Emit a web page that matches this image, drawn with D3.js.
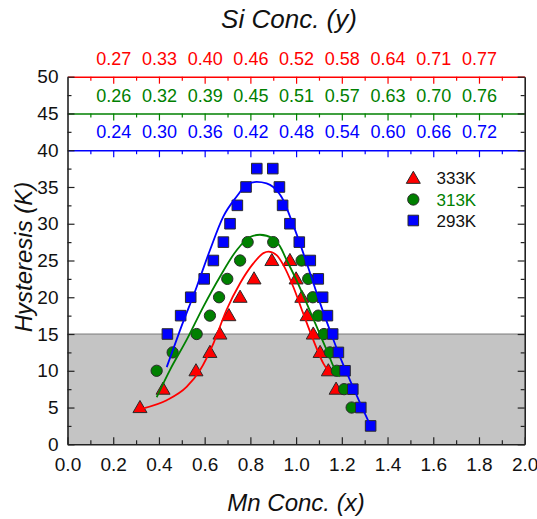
<!DOCTYPE html>
<html><head><meta charset="utf-8">
<script src="https://cdn.jsdelivr.net/npm/d3@7"></script>
<style>
body{margin:0;background:#fff;}
svg{display:block;font-family:"Liberation Sans",Arial,sans-serif;}
</style></head>
<body><svg id="c" width="537" height="519"></svg>
<script>
// ---- data ----
const xTickLabels = ["0.0","0.2","0.4","0.6","0.8","1.0","1.2","1.4","1.6","1.8","2.0"];
const yTickLabels = [0,5,10,15,20,25,30,35,40,45,50];
const siTickPos = [0.2,0.4,0.6,0.8,1.0,1.2,1.4,1.6,1.8];
const siRed   = ["0.27","0.33","0.40","0.46","0.52","0.58","0.64","0.71","0.77"];
const siGreen = ["0.26","0.32","0.39","0.45","0.51","0.57","0.63","0.70","0.76"];
const siBlue  = ["0.24","0.30","0.36","0.42","0.48","0.54","0.60","0.66","0.72"];

const t333_x = [0.317,0.418,0.562,0.623,0.667,0.706,0.755,0.816,0.894,0.973,1.000,1.025,1.048,1.075,1.105,1.141,1.175];
const t333_y = [5,7.5,10,12.5,15,17.5,20,22.5,25,25,22.5,20,17.5,15,12.5,10,7.5];
const t313_x = [0.390,0.460,0.565,0.623,0.663,0.699,0.755,0.788,0.900,1.024,1.053,1.073,1.097,1.122,1.148,1.178,1.210,1.243];
const t313_y = [10,12.5,15,17.5,20,22.5,25,27.5,27.5,25,22.5,20,17.5,15,12.5,10,7.5,5];
const t293_x = [0.437,0.495,0.539,0.598,0.638,0.682,0.711,0.743,0.781,0.828,0.898,0.927,0.941,0.973,1.014,1.062,1.097,1.116,1.137,1.160,1.185,1.214,1.248,1.283,1.326];
const t293_y = [15,17.5,20,22.5,25,27.5,30,32.5,35,37.5,37.5,35,32.5,30,27.5,25,22.5,20,17.5,15,12.5,10,7.5,5,2.5];

const fit333_x = [0.332,0.434,0.521,0.580,0.638,0.696,0.755,0.813,0.857,0.879,0.916,0.944,0.988,1.031,1.075,1.119,1.145];
const fit333_y = [4.9,6.0,7.8,10.1,13.7,18.3,21.9,24.6,26.0,26.2,25.7,24.4,21.4,17.8,14.2,11.0,9.8];
const fit313_x = [0.390,0.448,0.521,0.594,0.667,0.740,0.798,0.842,0.900,0.930,0.958,1.002,1.046,1.090,1.134,1.178,1.191];
const fit313_y = [6.4,10.1,14.2,18.7,22.8,26.4,28.2,28.5,28.0,26.9,25.1,22.3,19.2,16.0,12.8,9.7,9.2];
const fit293_x = [0.434,0.492,0.565,0.623,0.682,0.740,0.784,0.828,0.871,0.900,0.944,0.973,1.017,1.061,1.105,1.148,1.192,1.236,1.280,1.326];
const fit293_y = [10.5,15.5,21.4,26.4,31.0,33.7,35.3,35.7,35.5,35.0,33.2,31.0,27.3,23.3,19.2,15.5,11.9,8.7,5.6,2.5];

const shadeMax = 15;
const legendLabels = ["333K","313K","293K"];

// ---- chart ----
const svg = d3.select("#c");
const x = d3.scaleLinear([0,2],[67.5,524.7]);
const y = d3.scaleLinear([0,50],[444.3,76.7]);
const RED="#ff0000", GREEN="#008000", BLUE="#0000ff", EDGE="#2a2a2a";
const majorX = d3.range(0,2.0001,0.2), minorX = d3.range(0.1,2,0.2);
const majorY = yTickLabels, minorY = d3.range(2.5,50,5);

// shaded region
svg.append("rect").attr("x",x(0)).attr("y",y(shadeMax)).attr("width",x(2)-x(0)).attr("height",y(0)-y(shadeMax)).attr("fill","#c4c4c4");
svg.append("line").attr("x1",x(0)).attr("x2",x(2)).attr("y1",y(shadeMax)).attr("y2",y(shadeMax)).attr("stroke","#7a7a7a").attr("stroke-width",1);

function styleAxis(g,color,w){
  g.selectAll("path").attr("stroke",color).attr("stroke-width",w);
  g.selectAll("line").attr("stroke",color).attr("stroke-width",1.2);
}

// colored top Si axes
[[50,RED,siRed],[45,GREEN,siGreen],[40,BLUE,siBlue]].forEach(([lvl,col,labs])=>{
  const gm = svg.append("g").attr("transform",`translate(0,${y(lvl)})`)
    .call(d3.axisBottom(x).tickValues(siTickPos).tickFormat((d,i)=>labs[i]).tickSizeInner(7).tickSizeOuter(0));
  styleAxis(gm,col,1.6);
  gm.selectAll("text").attr("fill",col).attr("font-size",18).attr("font-family","Liberation Sans, Arial, sans-serif")
    .attr("y",-(y(lvl)-y(lvl+2.5))).attr("dy","0.36em");
  const gn = svg.append("g").attr("transform",`translate(0,${y(lvl)})`)
    .call(d3.axisBottom(x).tickValues(d3.range(0.1,2,0.2)).tickFormat("").tickSizeInner(4).tickSizeOuter(0));
  styleAxis(gn,col,1.6);
  gn.select("path").remove();
});

// bottom axis
const gb = svg.append("g").attr("transform",`translate(0,${y(0)})`)
  .call(d3.axisBottom(x).tickValues(majorX).tickFormat((d,i)=>xTickLabels[i]).tickSizeInner(-7).tickSizeOuter(0).tickPadding(13));
styleAxis(gb,"#222",1.6);
gb.selectAll("text").attr("fill","#111").attr("font-size",19).attr("font-family","Liberation Sans, Arial, sans-serif");
const gbm = svg.append("g").attr("transform",`translate(0,${y(0)})`)
  .call(d3.axisBottom(x).tickValues(minorX).tickFormat("").tickSizeInner(-4).tickSizeOuter(0));
styleAxis(gbm,"#222",1.6); gbm.select("path").remove();

// left axis
const gl = svg.append("g").attr("transform",`translate(${x(0)},0)`)
  .call(d3.axisLeft(y).tickValues(majorY).tickFormat(d=>d).tickSizeInner(-7).tickSizeOuter(0).tickPadding(9));
styleAxis(gl,"#222",1.6);
gl.selectAll("text").attr("fill","#111").attr("font-size",19).attr("font-family","Liberation Sans, Arial, sans-serif");
const glm = svg.append("g").attr("transform",`translate(${x(0)},0)`)
  .call(d3.axisLeft(y).tickValues(minorY).tickFormat("").tickSizeInner(-4).tickSizeOuter(0));
styleAxis(glm,"#222",1.6); glm.select("path").remove();

// right axis
const gr = svg.append("g").attr("transform",`translate(${x(2)},0)`)
  .call(d3.axisRight(y).tickValues(majorY).tickFormat("").tickSizeInner(-7).tickSizeOuter(0));
styleAxis(gr,"#222",1.6);
const grm = svg.append("g").attr("transform",`translate(${x(2)},0)`)
  .call(d3.axisRight(y).tickValues(minorY).tickFormat("").tickSizeInner(-4).tickSizeOuter(0));
styleAxis(grm,"#222",1.6); grm.select("path").remove();

// markers
const triSym = d3.symbol().type(d3.symbolTriangle).size(85);
const cirSym = d3.symbol().type(d3.symbolCircle).size(100);
const sqSym  = d3.symbol().type(d3.symbolSquare).size(112);

function drawPts(xs,ys,sym,fill,dy){
  svg.append("g").selectAll("path").data(xs.map((v,i)=>[v,ys[i]])).join("path")
    .attr("d",sym).attr("transform",d=>`translate(${x(d[0])},${y(d[1])+(dy||0)})`)
    .attr("fill",fill).attr("stroke",EDGE).attr("stroke-width",1);
}
drawPts(t333_x,t333_y,triSym,RED,1);
drawPts(t313_x,t313_y,cirSym,GREEN);
drawPts(t293_x,t293_y,sqSym,BLUE);

// fits
const line = d3.line().x(d=>x(d[0])).y(d=>y(d[1])).curve(d3.curveMonotoneX);
[[fit333_x,fit333_y,RED],[fit313_x,fit313_y,GREEN],[fit293_x,fit293_y,BLUE]].forEach(([xs,ys,c])=>{
  svg.append("path").datum(xs.map((v,i)=>[v,ys[i]])).attr("d",line)
    .attr("fill","none").attr("stroke",c).attr("stroke-width",1.8);
});

// legend
const legY = [178.3,199.5,220.5];
const legSyms = [[triSym,RED,"#111"],[cirSym,GREEN,GREEN],[sqSym,BLUE,"#111"]];
legendLabels.forEach((lab,i)=>{
  svg.append("path").attr("d",legSyms[i][0]).attr("transform",`translate(413.3,${legY[i]+(i===0?1:0)})`)
    .attr("fill",legSyms[i][1]).attr("stroke",EDGE).attr("stroke-width",1);
  svg.append("text").attr("x",436.5).attr("y",legY[i]).attr("dy","0.36em")
    .attr("font-size",17).attr("fill",legSyms[i][2]).text(lab);
});

// titles
svg.append("text").attr("x",289).attr("y",18.8).attr("dy","0.36em").attr("text-anchor","middle")
  .attr("font-size",26).attr("font-style","italic").attr("fill","#111").text("Si Conc. (y)");
svg.append("text").attr("x",296).attr("y",502).attr("dy","0.36em").attr("text-anchor","middle")
  .attr("font-size",24).attr("font-style","italic").attr("fill","#111").text("Mn Conc. (x)");
svg.append("text").attr("transform","translate(23,257) rotate(-90)").attr("dy","0.36em").attr("text-anchor","middle")
  .attr("font-size",24).attr("font-style","italic").attr("fill","#111").text("Hysteresis (K)");
</script></body></html>
